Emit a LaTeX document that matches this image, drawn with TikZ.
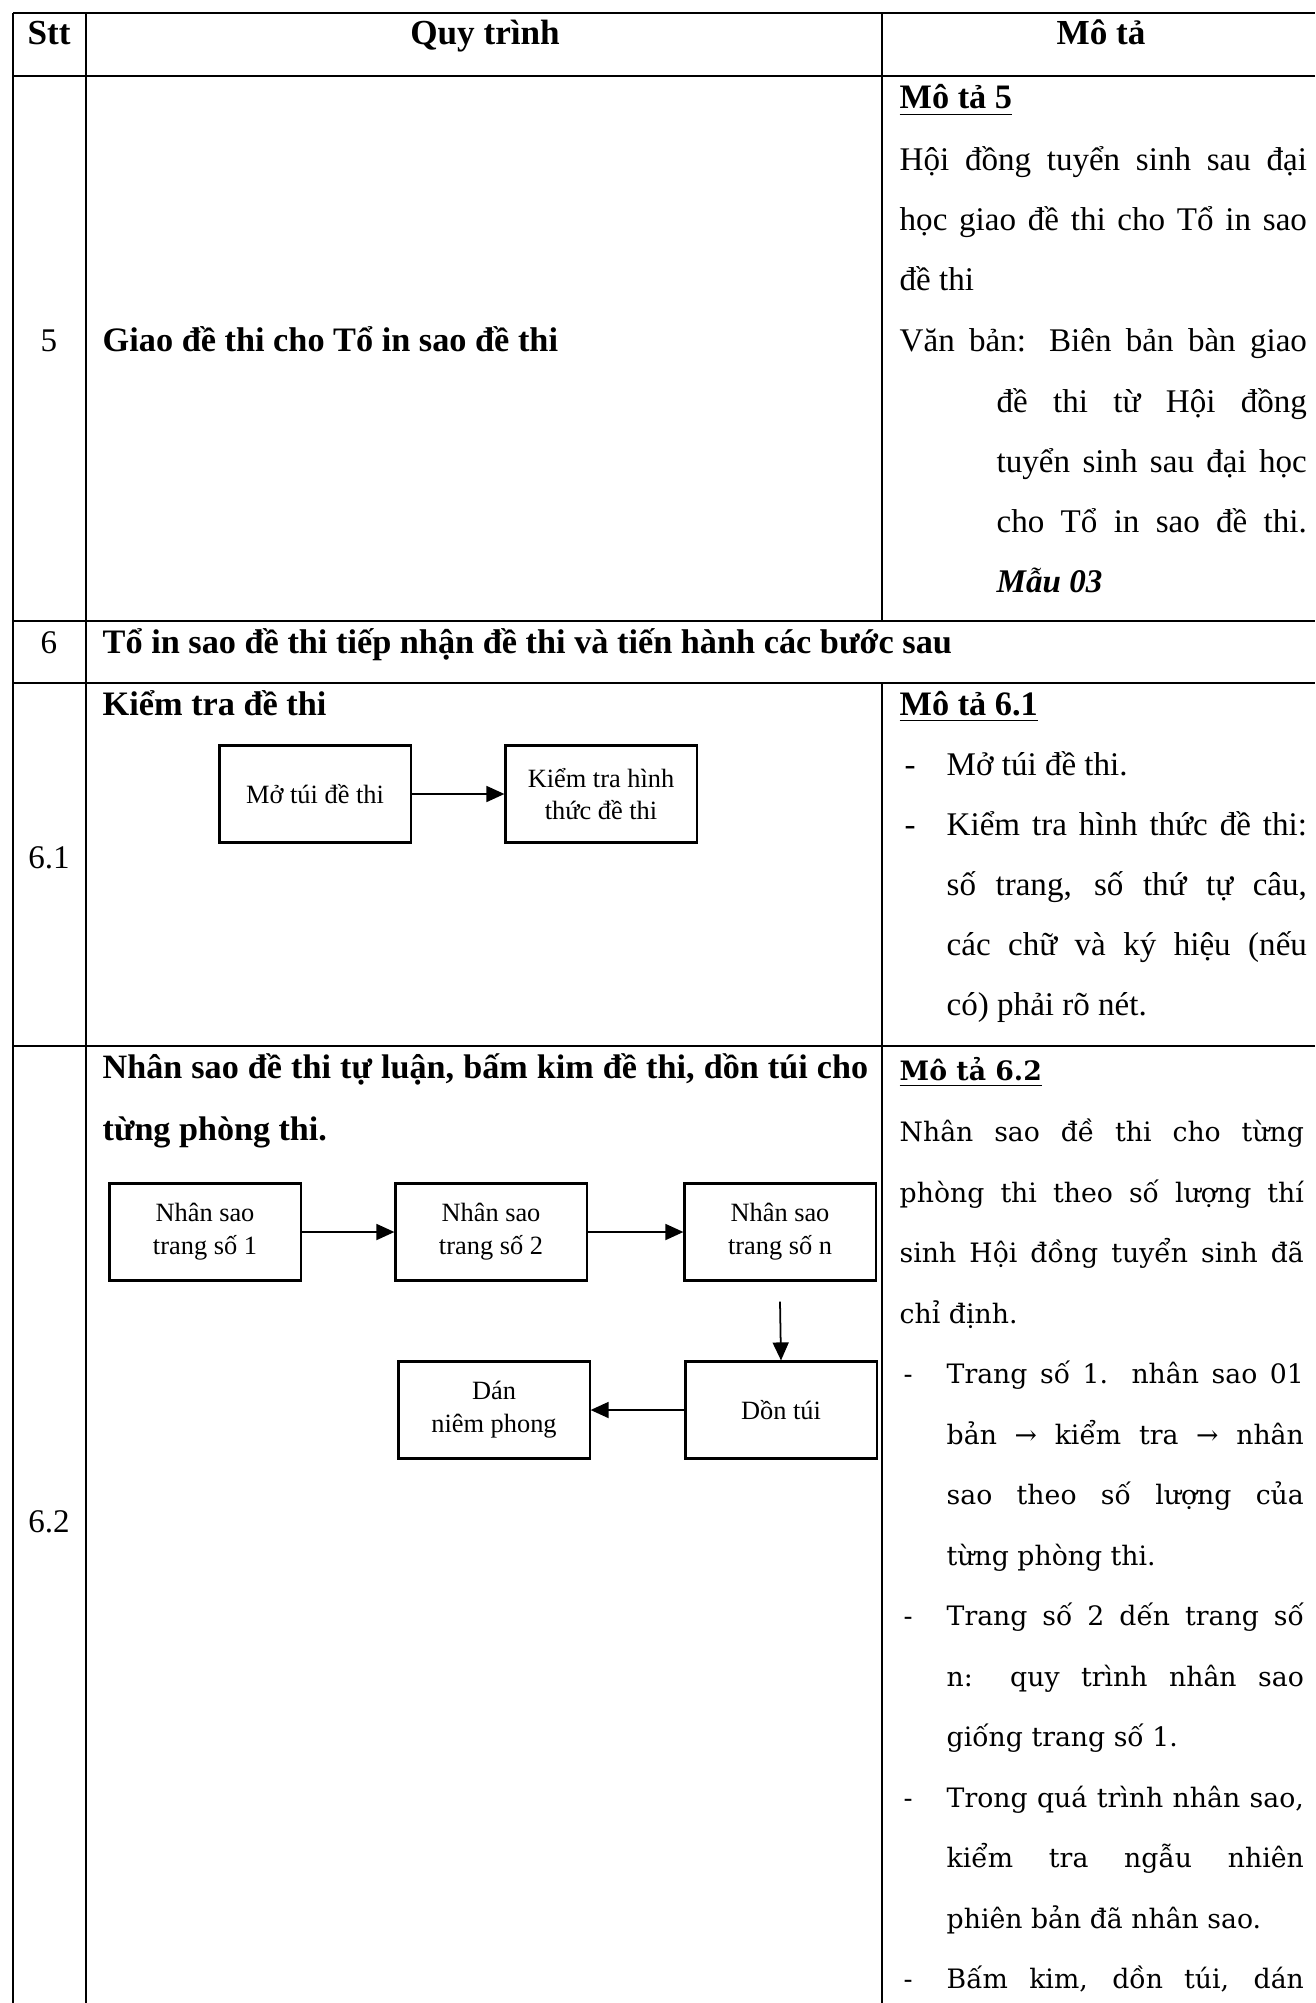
\documentclass[tikz,border=0pt]{standalone}
\usepackage{fontspec}
\setmainfont{Liberation Serif}
\newfontfamily\wideserif{DejaVu Serif}
\usetikzlibrary{arrows.meta}
\newcommand{\jline}[2]{\makebox[#1][s]{#2}}
\tikzstyle{grid}=[line width=0.6pt]
\tikzstyle{box}=[draw, line width=0.6pt, minimum width=1.91cm, minimum height=0.97cm, align=center, inner sep=1pt, font=\fontsize{7.5}{9.3}\selectfont]
\tikzstyle{flow}=[-{Triangle[length=0.18cm,width=0.16cm]}, line width=0.5pt]
\tikzstyle{txt}=[anchor=base west, inner sep=0pt, font=\fontsize{9.4}{11}\selectfont]
\tikzstyle{btxt}=[txt, font=\bfseries\fontsize{9.75}{11}\selectfont]
\tikzstyle{wtxt}=[anchor=base west, inner sep=0pt, font=\wideserif\fontsize{7.6}{9}\selectfont]
\tikzstyle{num}=[anchor=base, inner sep=0pt, font=\fontsize{9.4}{11}\selectfont]
\tikzstyle{head}=[num, font=\bfseries\fontsize{10}{12}\selectfont]

\begin{document}
\begin{tikzpicture}[x=0.01cm,y=-0.01cm]
\useasboundingbox (0,0) rectangle (1315,2003);
% table lines
\foreach \r in {13,76,621,683,1046}
  \draw[grid] (13,\r) -- (1315,\r);
\draw[grid] (13,13) -- (13,2003);
\draw[grid] (86,13) -- (86,2003);
\draw[grid] (882,13) -- (882,621);
\draw[grid] (882,683) -- (882,2003);

% header
\node[head] (h-stt) at (49,45) {Stt};
\node[head] (h-qt) at (485,45) {Quy trình};
\node[head] (h-mt) at (1101,45) {Mô tả};

% row 5
\node[num] (n5) at (49,351) {5};
\node[btxt] (p5) at (102,351) {Giao đề thi cho Tổ in sao đề thi};
\node[btxt] (d5-h) at (899,109) {\underline{Mô tả 5}};
\foreach \y/\t [count=\i] in {171/{Hội đồng tuyển sinh sau đại}, 231/{học giao đề thi cho Tổ in sao}, 351/{Văn bản: Biên bản bàn giao}}
  \node[txt] (d5-\i) at (899,\y) {\jline{4.07cm}{\t}};
\node[txt] (d5-c) at (899,291) {đề thi};
\foreach \y/\t [count=\i] in {412/{đề thi từ Hội đồng}, 472/{tuyển sinh sau đại học}, 532/{cho Tổ in sao đề thi.}}
  \node[txt] (d5-i\i) at (996,\y) {\jline{3.10cm}{\t}};
\node[txt, font=\bfseries\itshape\fontsize{9.4}{11}\selectfont] (d5-m) at (996,592) {Mẫu 03};

% row 6
\node[num] (n6) at (49,653) {6};
\node[btxt] (p6) at (102,653) {Tổ in sao đề thi tiếp nhận đề thi và tiến hành các bước sau};

% row 6.1
\node[num] (n61) at (49,868) {6.1};
\node[btxt] (p61) at (102,715) {Kiểm tra đề thi};
\node[box] (mo) at (315,794) {Mở túi đề thi};
\node[box] (kt) at (601,794) {Kiểm tra hình\\thức đề thi};
\draw[flow] (mo) -- (kt);
\node[btxt] (d61-h) at (899,715) {\underline{Mô tả 6.1}};
\foreach \y [count=\i] in {775,835}
  \node[txt] (d61-b\i) at (904,\y) {-};
\node[txt] (d61-1) at (946,775) {Mở túi đề thi.};
\foreach \y/\t [count=\i] in {835/{Kiểm tra hình thức đề thi:}, 895/{số trang, số thứ tự câu,}, 955/{các chữ và ký hiệu (nếu}}
  \node[txt] (d61-j\i) at (946,\y) {\jline{3.6cm}{\t}};
\node[txt] (d61-5) at (946,1015) {có) phải rõ nét.};

% row 6.2
\node[num] (n62) at (49,1532) {6.2};
\node[btxt, font=\bfseries\fontsize{9.7}{12}\selectfont] (p62-1) at (102,1078) {\jline{7.65cm}{Nhân sao đề thi tự luận, bấm kim đề thi, dồn túi cho}};
\node[btxt, font=\bfseries\fontsize{9.7}{12}\selectfont] (p62-2) at (102,1140) {từng phòng thi.};
\node[box] (s1) at (205,1232) {Nhân sao\\trang số 1};
\node[box] (s2) at (491,1232) {Nhân sao\\trang số 2};
\node[box] (sn) at (780,1232) {Nhân sao\\trang số n};
\node[box] (don) at (781,1410) {Dồn túi};
\node[box] (dan) at (494,1410) {Dán\\niêm phong};
\draw[flow] (s1) -- (s2);
\draw[flow] (s2) -- (sn);
\draw[flow] ([yshift=-0.2cm]sn.south) -- (don.north);
\draw[flow] (don) -- (dan);
\node[wtxt, font=\wideserif\bfseries\fontsize{7.6}{9}\selectfont] (d62-h) at (899,1080) {\underline{Mô tả 6.2}};
\foreach \y/\t [count=\i] in {1141/{Nhân sao đề thi cho từng}, 1202/{phòng thi theo số lượng thí}, 1262/{sinh Hội đồng tuyển sinh đã}}
  \node[wtxt] (d62-\i) at (899,\y) {\jline{4.04cm}{\t}};
\node[wtxt] (d62-4) at (899,1323) {chỉ định.};
\foreach \y [count=\i] in {1383,1625,1807,1988}
  \node[wtxt] (d62-b\i) at (903,\y) {-};
\foreach \y/\t [count=\i] in {1383/{Trang số 1. nhân sao 01}, 1444/{bản → kiểm tra → nhân}, 1504/{sao theo số lượng của}, 1625/{Trang số 2 dến trang số}, 1686/{n: quy trình nhân sao}, 1807/{Trong quá trình nhân sao,}, 1867/{kiểm tra ngẫu nhiên}, 1988/{Bấm kim, dồn túi, dán}}
  \node[wtxt] (d62-j\i) at (946,\y) {\jline{3.57cm}{\t}};
\foreach \y/\t [count=\i] in {1565/{từng phòng thi.}, 1746/{giống trang số 1.}, 1928/{phiên bản đã nhân sao.}}
  \node[wtxt] (d62-e\i) at (946,\y) {\t};
\end{tikzpicture}
\end{document}
